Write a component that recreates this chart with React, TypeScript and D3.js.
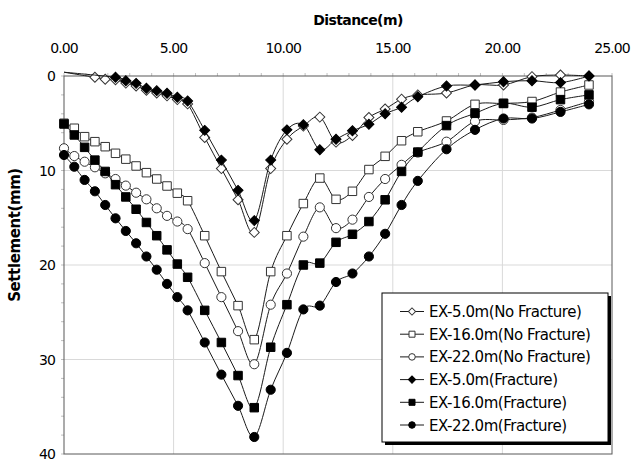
import React, { useEffect, useRef } from "react";
import * as d3 from "d3";

// distance along the section (m)
const distance = [0, 0.47, 0.94, 1.41, 1.88, 2.35, 2.82, 3.29, 3.76, 4.23, 4.7, 5.17, 5.64, 6.42, 7.18, 7.94, 8.68, 9.43, 10.17, 10.92, 11.67, 12.41, 13.16, 13.91, 14.65, 15.4, 16.14, 17.45, 18.75, 20.05, 21.35, 22.65, 23.95];

// settlement (mm), null = no reading
const ex5NoFracture = [-0.4, null, null, 0.14, 0.35, 0.4, 0.75, 1.05, 1.5, 1.8, 2.1, 2.5, 2.95, 6.5, 9.8, 13.1, 16.55, 9.8, 6.7, 5.3, 4.35, 7.0, 6.3, 4.4, 3.5, 2.45, 2.0, 1.8, 0.95, 0.95, 0.07, -0.1, 0.0];
const ex16NoFracture = [5.0, 5.53, 6.42, 6.95, 7.48, 8.18, 8.8, 9.52, 10.23, 10.9, 11.64, 12.4, 13.2, 16.9, 20.7, 24.3, 27.9, 20.7, 16.9, 13.5, 10.8, 13.05, 12.2, 9.9, 8.5, 6.85, 5.9, 4.76, 3.0, 2.9, 2.7, 1.7, 0.95];
const ex22NoFracture = [7.65, 8.47, 9.07, 9.66, 10.3, 10.9, 11.6, 12.35, 13.05, 14.0, 14.8, 15.4, 16.2, 19.8, 23.4, 27.0, 30.5, 24.2, 20.9, 17.0, 13.9, 16.1, 15.2, 12.8, 10.9, 9.4, 8.1, 6.95, 4.8, 4.65, 4.4, 3.6, 2.7];
const ex5Fracture = [-0.4, null, null, null, null, 0.14, 0.5, 0.78, 1.3, 1.55, 1.83, 2.25, 2.65, 5.75, 8.9, 12.1, 15.3, 8.9, 5.7, 5.15, 7.8, 6.7, 5.8, 5.1, 4.0, 3.3, 2.2, 1.06, 0.95, 0.6, 0.5, 0.7, 0.0];
const ex16Fracture = [5.08, 6.24, 7.55, 8.9, 10.1, 11.5, 12.8, 14.1, 15.5, 16.9, 18.4, 19.9, 21.3, 24.8, 28.2, 31.7, 35.1, 28.7, 24.2, 20.0, 19.8, 17.6, 16.75, 15.4, 13.1, 10.1, 8.05, 5.25, 3.95, 2.9, 3.3, 2.5, 2.0];
const ex22Fracture = [8.36, 9.6, 11.0, 12.2, 13.65, 15.06, 16.4, 17.7, 19.1, 20.5, 22.0, 23.4, 24.8, 28.2, 31.6, 34.9, 38.2, 33.2, 29.3, 24.7, 24.3, 21.8, 20.9, 19.1, 16.7, 13.65, 11.1, 7.75, 5.7, 4.5, 4.5, 3.8, 3.0];

const seriesNames = [
  "EX-5.0m(No Fracture)",
  "EX-16.0m(No Fracture)",
  "EX-22.0m(No Fracture)",
  "EX-5.0m(Fracture)",
  "EX-16.0m(Fracture)",
  "EX-22.0m(Fracture)",
];

const xTicks = [0, 5, 10, 15, 20, 25];
const yTicks = [0, 10, 20, 30, 40];

const FONT = "'DejaVu Sans', Verdana, sans-serif";

type Shape = "diamond" | "square" | "circle";

const series = [
  { name: seriesNames[0], values: ex5NoFracture, shape: "diamond" as Shape, filled: false },
  { name: seriesNames[1], values: ex16NoFracture, shape: "square" as Shape, filled: false },
  { name: seriesNames[2], values: ex22NoFracture, shape: "circle" as Shape, filled: false },
  { name: seriesNames[3], values: ex5Fracture, shape: "diamond" as Shape, filled: true },
  { name: seriesNames[4], values: ex16Fracture, shape: "square" as Shape, filled: true },
  { name: seriesNames[5], values: ex22Fracture, shape: "circle" as Shape, filled: true },
];

function markerPath(shape: Shape, big: boolean) {
  if (shape === "diamond") return d3.symbol(d3.symbolSquare, big ? 50 : 26)();
  if (shape === "square") return d3.symbol(d3.symbolSquare, big ? 72 : 36)();
  return d3.symbol(d3.symbolCircle, big ? 66 : 34)();
}

export default function App() {
  const svgRef = useRef<SVGSVGElement>(null);

  useEffect(() => {
    const svg = d3.select(svgRef.current);
    svg.selectAll("*").remove();

    const x = d3.scaleLinear().domain([0, 25]).range([64, 612]);
    const y = d3.scaleLinear().domain([0, 40]).range([76, 454]);

    // gridlines
    svg.append("g")
      .selectAll("line")
      .data([5, 10, 15, 20])
      .join("line")
      .attr("x1", d => x(d)).attr("x2", d => x(d))
      .attr("y1", y(0)).attr("y2", y(40))
      .attr("stroke", "#d9d9d9");
    svg.append("g")
      .selectAll("line")
      .data([10, 20, 30])
      .join("line")
      .attr("x1", x(0)).attr("x2", x(25))
      .attr("y1", d => y(d)).attr("y2", d => y(d))
      .attr("stroke", "#d9d9d9");

    // minor ticks
    svg.append("g")
      .selectAll("line")
      .data(d3.range(0, 26, 1))
      .join("line")
      .attr("x1", d => x(d)).attr("x2", d => x(d))
      .attr("y1", y(0) - 3).attr("y2", y(0))
      .attr("stroke", "#bfbfbf");
    svg.append("g")
      .selectAll("line")
      .data(d3.range(0, 41, 2))
      .join("line")
      .attr("x1", x(0) - 3).attr("x2", x(0))
      .attr("y1", d => y(d)).attr("y2", d => y(d))
      .attr("stroke", "#bfbfbf");

    // frame
    svg.append("rect")
      .attr("x", x(0)).attr("y", y(0))
      .attr("width", x(25) - x(0)).attr("height", y(40) - y(0))
      .attr("fill", "none").attr("stroke", "#595959");

    // tick labels
    svg.append("g")
      .selectAll("text")
      .data(xTicks)
      .join("text")
      .attr("x", d => x(d)).attr("y", 53)
      .attr("text-anchor", "middle")
      .style("font-family", FONT).style("font-size", "14px").style("letter-spacing", "-0.9px")
      .text(d => d.toFixed(2));
    svg.append("g")
      .selectAll("text")
      .data(yTicks)
      .join("text")
      .attr("x", 55).attr("y", d => y(d) + 5)
      .attr("text-anchor", "end")
      .style("font-family", FONT).style("font-size", "14px").style("letter-spacing", "-0.9px")
      .text(d => d);

    // axis titles
    svg.append("text")
      .attr("x", 358).attr("y", 25)
      .attr("text-anchor", "middle")
      .style("font-family", FONT).style("font-size", "14px").style("font-weight", "bold").style("letter-spacing", "-0.6px")
      .text("Distance(m)");
    svg.append("text")
      .attr("transform", "translate(20,235) rotate(-90)")
      .attr("text-anchor", "middle")
      .style("font-family", FONT).style("font-size", "15px").style("font-weight", "bold").style("letter-spacing", "-0.4px")
      .text("Settlement(mm)");

    const line = d3.line<[number, number]>()
      .x(d => x(d[0]))
      .y(d => y(d[1]))
      .curve(d3.curveCardinal.tension(0));

    series.forEach(s => {
      const pts = distance
        .map((dx, i) => [dx, s.values[i]] as [number, number | null])
        .filter(p => p[1] !== null) as [number, number][];
      const g = svg.append("g");
      g.append("path")
        .attr("d", line(pts))
        .attr("fill", "none")
        .attr("stroke", "#1a1a1a")
        .attr("stroke-width", 1);
      g.selectAll("path.m")
        .data(pts.filter(p => p[1] > -0.3))
        .join("path")
        .attr("class", "m")
        .attr("d", markerPath(s.shape, true))
        .attr("transform", d => `translate(${x(d[0])},${y(d[1])})${s.shape === "diamond" ? " rotate(45)" : ""}`)
        .attr("fill", s.filled ? "#000" : "#fff")
        .attr("stroke", s.filled ? "#000" : "#333")
        .attr("stroke-width", 1);
    });

    // legend
    const lg = svg.append("g");
    lg.append("rect")
      .attr("x", 385).attr("y", 296).attr("width", 226).attr("height", 149)
      .attr("fill", "#000");
    lg.append("rect")
      .attr("x", 382).attr("y", 293).attr("width", 226).attr("height", 149)
      .attr("fill", "#fff").attr("stroke", "#000");
    const rows = lg.selectAll("g.row")
      .data(series)
      .join("g")
      .attr("class", "row")
      .attr("transform", (_, i) => `translate(0,${311.5 + i * 22.7})`);
    rows.append("line")
      .attr("x1", 400).attr("x2", 424).attr("y1", 0).attr("y2", 0)
      .attr("stroke", "#1a1a1a");
    rows.append("path")
      .attr("d", d => markerPath(d.shape, false))
      .attr("transform", d => `translate(412,0)${d.shape === "diamond" ? " rotate(45)" : ""}`)
      .attr("fill", d => (d.filled ? "#000" : "#fff"))
      .attr("stroke", d => (d.filled ? "#000" : "#333"));
    rows.append("text")
      .attr("x", 429).attr("y", 5.5)
      .style("font-family", FONT).style("font-size", "15px").style("letter-spacing", "-0.45px")
      .text(d => d.name);
  }, []);

  return (
    <svg ref={svgRef} width={631} height={461} style={{ position: "absolute", left: 0, top: 0, background: "#fff" }} />
  );
}
